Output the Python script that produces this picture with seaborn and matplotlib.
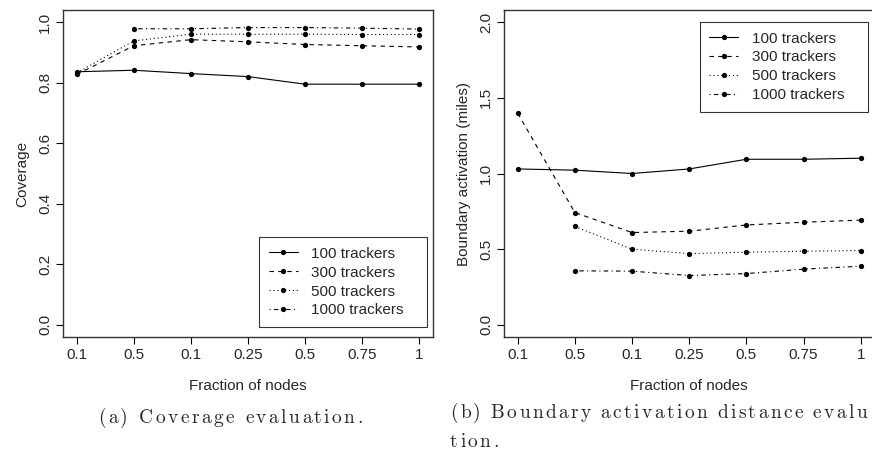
import numpy as np
import pandas as pd
import matplotlib
matplotlib.use("Agg")
import matplotlib.pyplot as plt
from matplotlib.lines import Line2D
import seaborn as sns

# ---- data ----
x_labels = ["0.1", "0.5", "0.1", "0.25", "0.5", "0.75", "1"]
series_names = ["100 trackers", "300 trackers", "500 trackers", "1000 trackers"]

cov_100 = [0.836, 0.841, 0.830, 0.820, 0.795, 0.795, 0.795]
cov_300 = [0.827, 0.922, 0.942, 0.935, 0.926, 0.922, 0.918]
cov_500 = [0.832, 0.938, 0.960, 0.960, 0.960, 0.959, 0.959]
cov_1000 = [np.nan, 0.978, 0.978, 0.982, 0.982, 0.980, 0.977]

bnd_100 = [1.030, 1.022, 1.000, 1.030, 1.094, 1.094, 1.101]
bnd_300 = [1.398, 0.742, 0.610, 0.619, 0.660, 0.678, 0.692]
bnd_500 = [np.nan, 0.650, 0.500, 0.471, 0.480, 0.487, 0.491]
bnd_1000 = [np.nan, 0.357, 0.355, 0.326, 0.339, 0.368, 0.388]

caption_a = ["(a)", "Coverage", "evaluation."]
caption_b1 = ["(b)", "Boundary", "activation", "distance", "evalua-"]
caption_b2 = ["tion."]

sns.set_theme(style="white")
plt.rcParams["font.family"] = ["Liberation Sans", "DejaVu Sans"]

W, H = 872, 455
fig = plt.figure(figsize=(W / 100, H / 100), dpi=100)

FS = 11
lw = 0.8
styles = {
    "100 trackers": None,
    "300 trackers": (4, 4),
    "500 trackers": (1, 2.5),
    "1000 trackers": (1, 3, 4, 3),
}


def make_df(vals):
    rows = []
    for name, v in zip(series_names, vals):
        for i, y in enumerate(v):
            if not np.isnan(y):
                rows.append({"pos": i + 1, "value": y, "series": name})
    return pd.DataFrame(rows)


def draw(ax, df, ylim, yticks, yticklabels, ylabel, leg_loc, leg_bbox):
    for name in series_names:
        sub = df[df["series"] == name]
        st = styles[name]
        sns.lineplot(data=sub, x="pos", y="value", ax=ax, color="black",
                     linewidth=lw, marker="o", markersize=3.8,
                     markeredgewidth=0, legend=False)
        line = ax.lines[-1]
        if st is not None:
            line.set_dashes(st)
    ax.set_xlim(0.76, 7.24)
    ax.set_ylim(*ylim)
    ax.set_xticks(range(1, 8))
    ax.set_xticklabels(x_labels, fontsize=FS)
    ax.set_yticks(yticks)
    ax.set_yticklabels(yticklabels, fontsize=FS, rotation=90, va="center")
    ax.set_xlabel("Fraction of nodes", fontsize=FS, labelpad=12)
    ax.set_ylabel(ylabel, fontsize=FS, labelpad=6)
    ax.tick_params(axis="both", direction="out", length=5, width=0.8,
                   color="black", bottom=True, left=True, pad=3)
    for sp in ax.spines.values():
        sp.set_color("#333333")
        sp.set_linewidth(1.0)
    handles = []
    for name in series_names:
        st = styles[name]
        h = Line2D([0], [0], color="black", lw=lw, marker="o", markersize=3.8,
                   markeredgewidth=0)
        if st is not None:
            h.set_dashes(st)
        handles.append(h)
    leg = ax.legend(handles, series_names, loc=leg_loc,
                    bbox_to_anchor=leg_bbox, mode="expand", fontsize=FS,
                    frameon=True, fancybox=False, edgecolor="black",
                    handlelength=1.9, handletextpad=0.9, borderpad=0.62,
                    labelspacing=0.32, borderaxespad=0)
    leg.get_frame().set_linewidth(0.8)


ax1 = fig.add_axes([63 / W, 1 - 337 / H, 370 / W, 327 / H])
draw(ax1, make_df([cov_100, cov_300, cov_500, cov_1000]),
     (-0.04, 1.04), [0, 0.2, 0.4, 0.6, 0.8, 1.0],
     ["0.0", "0.2", "0.4", "0.6", "0.8", "1.0"], "Coverage",
     "lower left", (0.53, 0.031, 0.454, 0.282))

ax2 = fig.add_axes([504 / W, 1 - 337 / H, 370.4 / W, 327 / H])
draw(ax2, make_df([bnd_100, bnd_300, bnd_500, bnd_1000]),
     (-0.08, 2.08), [0, 0.5, 1.0, 1.5, 2.0],
     ["0.0", "0.5", "1.0", "1.5", "2.0"], "Boundary activation (miles)",
     "upper left", (0.529, 0.679, 0.454, 0.284))

# captions in a Computer Modern face with loose letter spacing
renderer = fig.canvas.get_renderer()
CAP_FS = 14
TRACK = 2.4


def char_width(ch):
    t = fig.text(0, 0, "x" + ch + "x", family="cmr10", fontsize=CAP_FS)
    w1 = t.get_window_extent(renderer).width
    t.remove()
    t = fig.text(0, 0, "xx", family="cmr10", fontsize=CAP_FS)
    w2 = t.get_window_extent(renderer).width
    t.remove()
    return w1 - w2


def place_words(words, x0, base_px, gap):
    x = x0
    for word in words:
        for i, ch in enumerate(word):
            w = char_width(ch)
            if x + w > W - 1:
                return
            fig.text(x / W, 1 - base_px / H, ch, family="cmr10",
                     fontsize=CAP_FS, ha="left", va="baseline")
            x += w + (TRACK if i < len(word) - 1 else 0)
        x += gap


place_words(caption_a, 98, 423, 11.4)
place_words(caption_b1, 450, 418, 10.0)
place_words(caption_b2, 450, 447, 10.0)

fig.savefig("out.png", dpi=100)
